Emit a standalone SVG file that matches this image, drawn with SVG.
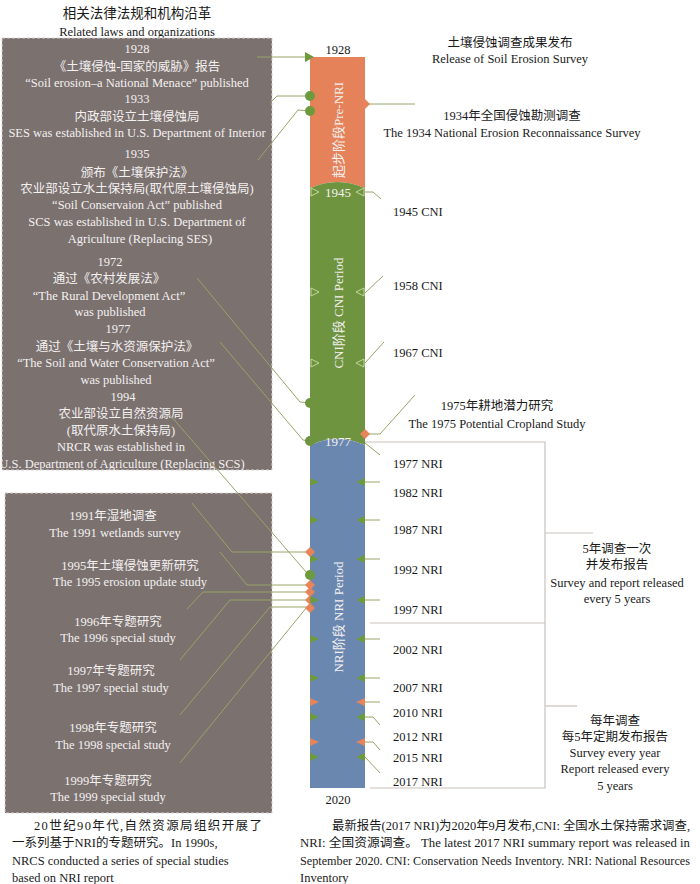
<svg xmlns="http://www.w3.org/2000/svg" width="700" height="884" viewBox="0 0 700 884">
<style>
text{font-family:"Liberation Serif","Noto Sans CJK SC",serif;font-size:12.5px;fill:#1a1a1a}
.w{fill:#f3f0ef}
.c{text-anchor:middle}
.box{fill:#7b716f;stroke:#d9d3d1;stroke-width:1;stroke-dasharray:3 2}
.ln{fill:none;stroke:#98a468;stroke-width:1}
.br{fill:none;stroke:#c9c1bd;stroke-width:1.2}
.g{fill:#6e9a3e}
.o{fill:#e8845a}
.h{fill:none;stroke:#c2d79b;stroke-width:1}
.vl{fill:#f3f0ef;font-size:13px;text-anchor:middle;dominant-baseline:central}
</style>
<rect width="700" height="884" fill="#fff"/>

<g id="laws-title">
<text class="c" x="137" y="18" style="font-size:13.5px">相关法律法规和机构沿革</text>
<text class="c" x="137" y="36">Related laws and organizations</text>
</g>

<g id="laws-box">
<rect class="box" x="2" y="38" width="270" height="432"/>
<text class="c w" x="137" y="53">1928</text>
<text class="c w" x="137" y="71">《土壤侵蚀-国家的威胁》报告</text>
<text class="c w" x="137" y="87">“Soil erosion–a National Menace” published</text>
<text class="c w" x="137" y="103">1933</text>
<text class="c w" x="137" y="121">内政部设立土壤侵蚀局</text>
<text class="c w" x="137" y="137">SES was established in U.S. Department of Interior</text>
<text class="c w" x="137" y="158">1935</text>
<text class="c w" x="137" y="177">颁布《土壤保护法》</text>
<text class="c w" x="137" y="193">农业部设立水土保持局(取代原土壤侵蚀局)</text>
<text class="c w" x="137" y="209">“Soil Conservaion Act” published</text>
<text class="c w" x="137" y="226">SCS was established in U.S. Department of</text>
<text class="c w" x="140" y="243">Agriculture (Replacing SES)</text>
<text class="c w" x="110" y="266">1972</text>
<text class="c w" x="109" y="283">通过《农村发展法》</text>
<text class="c w" x="109" y="300">“The Rural Development Act”</text>
<text class="c w" x="110" y="316">was published</text>
<text class="c w" x="118" y="333">1977</text>
<text class="c w" x="117" y="351">通过《土壤与水资源保护法》</text>
<text class="c w" x="116" y="367">“The Soil and Water Conservation Act”</text>
<text class="c w" x="116" y="384">was published</text>
<text class="c w" x="123" y="401">1994</text>
<text class="c w" x="121" y="418">农业部设立自然资源局</text>
<text class="c w" x="121" y="435">(取代原水土保持局)</text>
<text class="c w" x="121" y="451">NRCR was established in</text>
<text class="c w" x="122" y="468">U.S. Department of Agriculture (Replacing SCS)</text>
</g>

<g id="studies-box">
<rect class="box" x="5" y="493" width="267" height="320"/>
<text class="c w" x="113" y="520">1991年湿地调查</text>
<text class="c w" x="115" y="537">The 1991 wetlands survey</text>
<text class="c w" x="130" y="570">1995年土壤侵蚀更新研究</text>
<text class="c w" x="130" y="586">The 1995 erosion update study</text>
<text class="c w" x="118" y="626">1996年专题研究</text>
<text class="c w" x="118" y="642">The 1996 special study</text>
<text class="c w" x="111" y="675">1997年专题研究</text>
<text class="c w" x="111" y="692">The 1997 special study</text>
<text class="c w" x="113" y="732">1998年专题研究</text>
<text class="c w" x="113" y="749">The 1998 special study</text>
<text class="c w" x="108" y="785">1999年专题研究</text>
<text class="c w" x="108" y="801">The 1999 special study</text>
</g>

<g id="timeline-bar">
<path fill="#e5825a" d="M310,57 H365 V188 Q337.5,176 310,188 Z"/>
<path fill="#6e9440" d="M310,188 Q337.5,176 365,188 V445 Q337.5,433 310,445 Z"/>
<path fill="#6a87b0" d="M310,445 Q337.5,433 365,445 V788 H310 Z"/>
<text class="vl" transform="translate(338,130) rotate(-90)">起步阶段Pre-NRI</text>
<text class="vl" transform="translate(338,313) rotate(-90)">CNI阶段 CNI Period</text>
<text class="vl" transform="translate(338,617) rotate(-90)">NRI阶段 NRI Period</text>
<text class="c" x="338" y="54">1928</text>
<text class="c w" x="338" y="197" style="font-size:13px">1945</text>
<text class="c w" x="338" y="446" style="font-size:13px">1977</text>
<text class="c" x="338" y="804">2020</text>
</g>

<g id="connectors">
<polyline class="ln" points="257,57 307,57"/>
<polyline class="ln" points="270,103 277,96 310,96"/>
<polyline class="ln" points="258,160 298,110 310,111"/>
<polyline class="ln" points="197,278 300,402 310,403"/>
<polyline class="ln" points="220,342 303,440 310,441"/>
<polyline class="ln" points="170,415 307,573"/>
<polyline class="ln" points="192,503 232,552 310,552"/>
<polyline class="ln" points="220,552 247,585 310,585"/>
<polyline class="ln" points="187,609 203,592 310,592"/>
<polyline class="ln" points="180,660 230,600 310,600"/>
<polyline class="ln" points="180,715 270,607 310,607"/>
<polyline class="ln" points="180,763 307,607"/>
<polyline class="ln" points="365,104 415,104"/>
<polyline class="ln" points="365,192 373,192 381,199"/>
<polyline class="ln" points="365,293 383,276"/>
<polyline class="ln" points="365,363 384,342"/>
<polyline class="ln" points="365,434 380,434 415,395"/>
<polyline class="ln" points="365,443 380,455"/>
<polyline class="ln" points="365,482 380,482"/>
<polyline class="ln" points="365,520 380,520"/>
<polyline class="ln" points="365,559 380,559"/>
<polyline class="ln" points="365,600 380,600"/>
<polyline class="ln" points="365,639 380,639"/>
<polyline class="ln" points="365,678 380,678"/>
<polyline class="ln" points="365,702 380,702"/>
<polyline class="ln" points="365,717 373,717 380,725"/>
<polyline class="ln" points="365,742 373,742 380,750"/>
<polyline class="ln" points="365,757 380,773"/>
</g>

<g id="markers">
<path class="g" d="M305,52 L314,57 L305,62 Z"/>
<circle class="g" cx="310" cy="96" r="5"/>
<circle class="g" cx="310" cy="111" r="5"/>
<path class="o" d="M365,99 L370,104 L365,109 L360,104 Z"/>
<path class="h" d="M311,188 L319,192 L311,196 Z M364,188 L356,192 L364,196 Z"/>
<path class="h" d="M311,288 L319,292 L311,296 Z M364,288 L356,292 L364,296 Z"/>
<path class="h" d="M311,359 L319,363 L311,367 Z M364,359 L356,363 L364,367 Z"/>
<circle fill="#6e9440" cx="310" cy="403" r="5"/>
<circle fill="#6e9440" cx="310" cy="441" r="5"/>
<path class="o" d="M365,429 L370,434 L365,439 L360,434 Z"/>
<path class="g" d="M310,478 L319,482 L310,486 Z M365,478 L356,482 L365,486 Z"/>
<path class="g" d="M310,516 L319,520 L310,524 Z M365,516 L356,520 L365,524 Z"/>
<path class="g" d="M310,555 L319,559 L310,563 Z M365,555 L356,559 L365,563 Z"/>
<path class="g" d="M365,596 L356,600 L365,604 Z"/>
<path class="g" d="M310,635 L319,639 L310,643 Z M365,635 L356,639 L365,643 Z"/>
<path class="g" d="M310,674 L319,678 L310,682 Z M365,674 L356,678 L365,682 Z"/>
<path class="o" d="M310,698 L319,702 L310,706 Z M365,698 L356,702 L365,706 Z"/>
<path class="g" d="M310,713 L319,717 L310,721 Z M365,713 L356,717 L365,721 Z"/>
<path class="o" d="M310,738 L319,742 L310,746 Z M365,738 L356,742 L365,746 Z"/>
<path class="g" d="M310,753 L319,757 L310,761 Z M365,753 L356,757 L365,761 Z"/>
<path class="o" d="M310,547 L315,552 L310,557 L305,552 Z"/>
<circle class="g" cx="310" cy="575" r="5"/>
<path class="o" d="M310,580 L315,585 L310,590 L305,585 Z"/>
<path class="o" d="M310,587 L315,592 L310,597 L305,592 Z"/>
<path class="o" d="M310,595 L315,600 L310,605 L305,600 Z"/>
<path class="g" d="M310,596 L319,600 L310,604 Z"/>
<path class="o" d="M310,603 L315,608 L310,613 L305,608 Z"/>
</g>

<g id="right-labels">
<text class="c" x="510" y="47">土壤侵蚀调查成果发布</text>
<text class="c" x="510" y="63">Release of Soil Erosion Survey</text>
<text class="c" x="512" y="120">1934年全国侵蚀勘测调查</text>
<text class="c" x="512" y="137">The 1934 National Erosion Reconnaissance Survey</text>
<text x="393" y="216">1945 CNI</text>
<text x="393" y="290">1958 CNI</text>
<text x="393" y="357">1967 CNI</text>
<text class="c" x="497" y="410">1975年耕地潜力研究</text>
<text class="c" x="497" y="428">The 1975 Potential Cropland Study</text>
<text x="393" y="468">1977 NRI</text>
<text x="393" y="497">1982 NRI</text>
<text x="393" y="534">1987 NRI</text>
<text x="393" y="574">1992 NRI</text>
<text x="393" y="614">1997 NRI</text>
<text x="393" y="654">2002 NRI</text>
<text x="393" y="692">2007 NRI</text>
<text x="393" y="717">2010 NRI</text>
<text x="393" y="741">2012 NRI</text>
<text x="393" y="762">2015 NRI</text>
<text x="393" y="786">2017 NRI</text>
</g>

<g id="brackets">
<polyline class="br" points="365,442 545,442 545,788 370,788"/>
<line class="br" x1="370" y1="623" x2="545" y2="623"/>
<line class="br" x1="545" y1="533" x2="593" y2="533"/>
<line class="br" x1="545" y1="706" x2="577" y2="706"/>
<text class="c" x="617" y="553">5年调查一次</text>
<text class="c" x="617" y="569">并发布报告</text>
<text class="c" x="617" y="587">Survey and report released</text>
<text class="c" x="617" y="603">every 5 years</text>
<text class="c" x="615" y="725">每年调查</text>
<text class="c" x="615" y="741">每5年定期发布报告</text>
<text class="c" x="615" y="757">Survey every year</text>
<text class="c" x="615" y="773">Report released every</text>
<text class="c" x="615" y="790">5 years</text>
</g>

<g id="captions">
<text x="34" y="830" textLength="228" lengthAdjust="spacing">20世纪90年代,自然资源局组织开展了</text>
<text x="12" y="847">一系列基于NRI的专题研究。In 1990s,</text>
<text x="12" y="865">NRCS conducted a series of special studies</text>
<text x="12" y="882">based on NRI report</text>
<text x="332" y="830" textLength="358" lengthAdjust="spacingAndGlyphs">最新报告(2017 NRI)为2020年9月发布,CNI: 全国水土保持需求调查,</text>
<text x="300" y="847" textLength="390" lengthAdjust="spacingAndGlyphs">NRI: 全国资源调查。 The latest 2017 NRI summary report was released in</text>
<text x="300" y="865" textLength="390" lengthAdjust="spacingAndGlyphs">September 2020. CNI: Conservation Needs Inventory. NRI: National Resources</text>
<text x="300" y="882">Inventory</text>
</g>
</svg>
